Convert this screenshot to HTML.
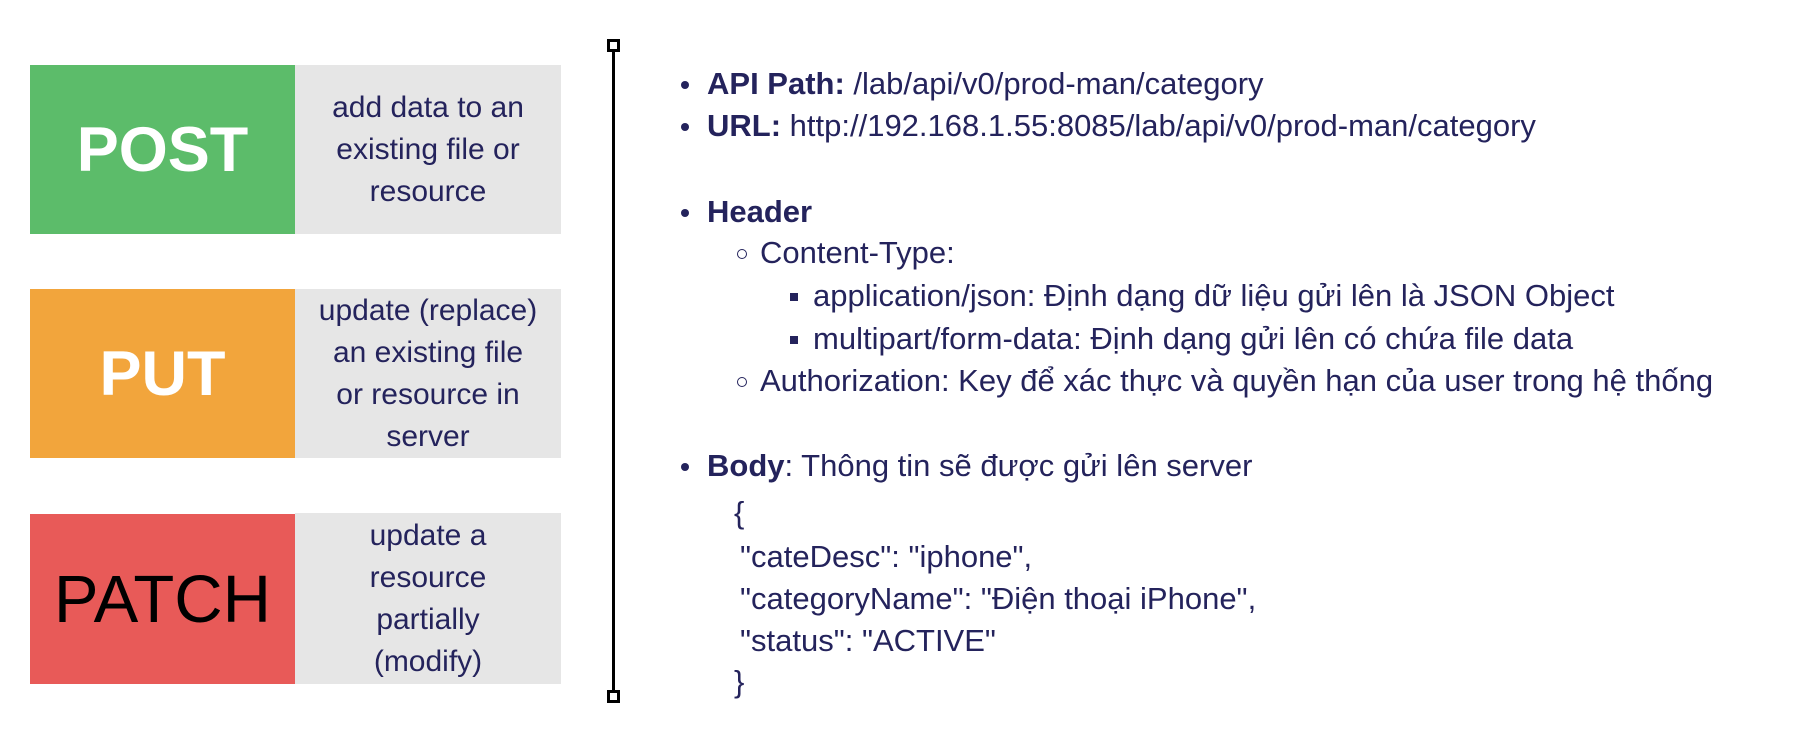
<!DOCTYPE html>
<html><head><meta charset="utf-8"><style>
*{margin:0;padding:0;box-sizing:border-box}
body{width:1814px;height:750px;background:#fff;position:relative;overflow:hidden;font-family:"Liberation Sans",sans-serif;color:#24235c}
.m{position:absolute;left:30px;width:265px;display:flex;align-items:center;justify-content:center;font-size:63px}
.d{position:absolute;left:295px;width:266px;background:#e6e6e6;display:flex;align-items:center;justify-content:center;text-align:center;font-size:30px;line-height:42px;white-space:nowrap}
.t{position:absolute;font-size:31px;white-space:nowrap;line-height:34px}
.b{position:absolute;width:8px;height:8px;border-radius:50%;background:#24235c}
.c{position:absolute;width:10px;height:10px;border-radius:50%;border:1.5px solid #24235c}
.s{position:absolute;width:8px;height:8px;background:#24235c}
</style></head><body>
<div class="m" style="top:65px;height:169px;background:#5cbc6a;color:#fff;font-weight:bold">POST</div>
<div class="d" style="top:65px;height:169px">add data to an<br>existing file or<br>resource</div>
<div class="m" style="top:289px;height:169px;background:#f2a53c;color:#fff;font-weight:bold">PUT</div>
<div class="d" style="top:289px;height:169px">update (replace)<br>an existing file<br>or resource in<br>server</div>
<div class="m" style="top:514px;height:170px;background:#e85a58;color:#000;font-size:67px">PATCH</div>
<div class="d" style="top:513px;height:171px">update a<br>resource<br>partially<br>(modify)</div>
<div style="position:absolute;left:612px;top:48px;width:3px;height:650px;background:#000"></div>
<div style="position:absolute;left:607px;top:39px;width:13px;height:13px;border:3px solid #000;background:#fff"></div>
<div style="position:absolute;left:607px;top:690px;width:13px;height:13px;border:3px solid #000;background:#fff"></div>

<div class="b" style="left:681px;top:81px"></div><div class="t" style="left:707px;top:67px"><b>API Path:</b> /lab/api/v0/prod-man/category</div>
<div class="b" style="left:681px;top:123px"></div><div class="t" style="left:707px;top:109px"><b>URL:</b> http://192.168.1.55:8085/lab/api/v0/prod-man/category</div>
<div class="b" style="left:681px;top:209px"></div><div class="t" style="left:707px;top:195px"><b>Header</b></div>
<div class="c" style="left:737px;top:249px"></div><div class="t" style="left:760px;top:236px">Content-Type:</div>
<div class="s" style="left:790px;top:293px"></div><div class="t" style="left:813px;top:279px">application/json: Định dạng dữ liệu gửi lên là JSON Object</div>
<div class="s" style="left:790px;top:336px"></div><div class="t" style="left:813px;top:322px">multipart/form-data: Định dạng gửi lên có chứa file data</div>
<div class="c" style="left:737px;top:377px"></div><div class="t" style="left:760px;top:364px">Authorization: Key để xác thực và quyền hạn của user trong hệ thống</div>
<div class="b" style="left:681px;top:463px"></div><div class="t" style="left:707px;top:449px"><b>Body</b>: Thông tin sẽ được gửi lên server</div>
<div class="t" style="left:734px;top:496px">{</div>
<div class="t" style="left:740px;top:540px">"cateDesc": "iphone",</div>
<div class="t" style="left:740px;top:582px">"categoryName": "Điện thoại iPhone",</div>
<div class="t" style="left:740px;top:624px">"status": "ACTIVE"</div>
<div class="t" style="left:734px;top:665px">}</div>
</body></html>
